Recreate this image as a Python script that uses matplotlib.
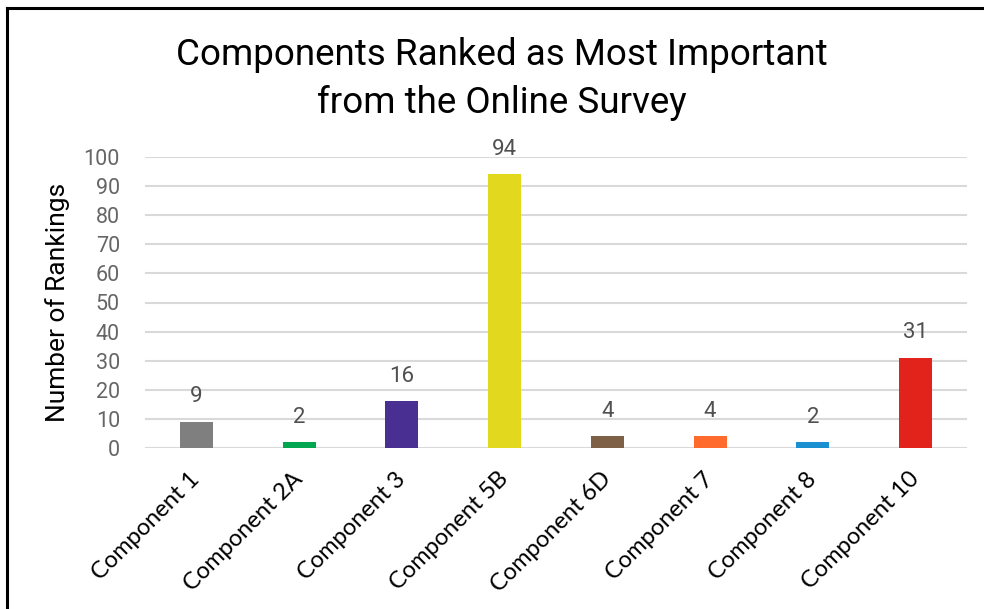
import matplotlib
matplotlib.use("Agg")
import matplotlib.pyplot as plt
from matplotlib.lines import Line2D

categories = ["Component 1", "Component 2A", "Component 3", "Component 5B",
              "Component 6D", "Component 7", "Component 8", "Component 10"]
values = [9, 2, 16, 94, 4, 4, 2, 31]
colors = ["#7F7F7F", "#00A650", "#4A2F92", "#E2D91E",
          "#7D6046", "#FF6B2C", "#1B90D0", "#E2231B"]
yticks = [0, 10, 20, 30, 40, 50, 60, 70, 80, 90, 100]

plt.rcParams['font.family'] = ['Roboto', 'DejaVu Sans']

fig = plt.figure(figsize=(9.84, 6.09), dpi=100)
ax = fig.add_axes([145/984, 1-448/609, (967-145)/984, (448-157)/609])

x = list(range(len(categories)))
ax.bar(x, values, width=0.32, color=colors, zorder=3)
ax.set_xlim(-0.5, len(categories)-0.5)
ax.set_ylim(0, 100)
ax.set_yticks(yticks)
ax.set_yticklabels([str(t) for t in yticks], fontsize=15.5, color="#666666")
ax.grid(axis="y", color="#D9D9D9", linewidth=1.5, zorder=0)
for s in ax.spines.values():
    s.set_visible(False)
ax.tick_params(axis="both", length=0)
ax.tick_params(axis="y", pad=18)
ax.set_xticks(x)
ax.set_xticklabels(categories, rotation=45, ha="right", va="center",
                   rotation_mode="anchor", fontsize=17, color="black",
                   family=["Lato", "DejaVu Sans"])
ax.tick_params(axis="x", pad=20)
for xi, v in zip(x, values):
    ax.text(xi, v + 5, str(v), ha="center", va="bottom", fontsize=16,
            color="#505050", clip_on=False)
ax.set_ylabel("Number of Rankings", fontsize=19, color="black", labelpad=10)

fig.text(0.51, 1-79/609, "Components Ranked as Most Important\nfrom the Online Survey",
         ha="center", va="center", fontsize=26.5, linespacing=1.4, color="black")

fig.add_artist(Line2D([7/984, 1], [1-8/609, 1-8/609], color="black", linewidth=2.2,
                      transform=fig.transFigure))
fig.add_artist(Line2D([7/984, 7/984], [0, 1-8/609], color="black", linewidth=2.2,
                      transform=fig.transFigure))

fig.savefig("out.png", dpi=100)
